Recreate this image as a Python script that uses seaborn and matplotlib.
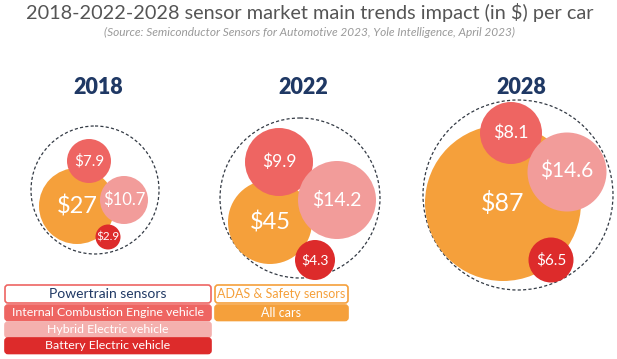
import matplotlib.pyplot as plt
import seaborn as sns
import pandas as pd
from matplotlib.patches import Circle, FancyBboxPatch

sns.set_theme(style='white')
plt.rcParams['font.family'] = ['Lato', 'DejaVu Sans']

# Data
years = ['2018', '2022', '2028']
segments = ['All cars', 'Internal Combustion Engine vehicle',
            'Hybrid Electric vehicle', 'Battery Electric vehicle']
values_2018 = [27, 7.9, 10.7, 2.9]
values_2022 = [45, 9.9, 14.2, 4.3]
values_2028 = [87, 8.1, 14.6, 6.5]
labels_2018 = ['$27', '$7.9', '$10.7', '$2.9']
labels_2022 = ['$45', '$9.9', '$14.2', '$4.3']
labels_2028 = ['$87', '$8.1', '$14.6', '$6.5']

colors = {'All cars': '#F5A03B',
          'Internal Combustion Engine vehicle': '#EE6562',
          'Hybrid Electric vehicle': '#F29C9A',
          'Battery Electric vehicle': '#DD2B2B'}

# Layout (pixels): ring centre and radius per year, then bubble offset / radius
rings = {'2018': (95, 190, 64), '2022': (300, 198, 80), '2028': (518, 195, 95)}
offsets = {'2018': [(-18, 16), (-6, -29), (29, 10), (13, 47)],
           '2022': [(-30, 24), (-21, -36), (37, 2), (15, 62)],
           '2028': [(-15, 8), (-7, -62), (49, -23), (33, 65)]}
radii = {'2018': [38, 22, 24, 12.5],
         '2022': [42, 34, 39, 20],
         '2028': [78, 31, 39.5, 22.5]}
fonts = {'2018': [17, 11, 12, 8.5],
         '2022': [17, 12.5, 14, 10],
         '2028': [18, 13, 15, 11]}

rows = []
for yr, vals, labs in zip(years, [values_2018, values_2022, values_2028],
                          [labels_2018, labels_2022, labels_2028]):
    cx, cy, _ = rings[yr]
    for i, seg in enumerate(segments):
        dx, dy = offsets[yr][i]
        rows.append({'year': yr, 'segment': seg, 'value': vals[i],
                     'label': labs[i], 'x': cx + dx, 'y': cy + dy,
                     'r': radii[yr][i], 'fs': fonts[yr][i]})
df = pd.DataFrame(rows)
# marker area in points^2 from pixel radius at dpi 100
df['s'] = (2 * df['r'] * 0.72) ** 2

fig = plt.figure(figsize=(6.17, 3.59), dpi=100)
ax = fig.add_axes([0, 0, 1, 1])
ax.set_xlim(0, 617)
ax.set_ylim(359, 0)
ax.axis('off')

# draw in segment order so orange stays behind
for seg in segments:
    sub = df[df['segment'] == seg]
    sns.scatterplot(data=sub, x='x', y='y', size='s',
                    sizes={v: v for v in sub['s']}, color=colors[seg],
                    linewidth=0, legend=False, ax=ax, zorder=3)

for _, row in df.iterrows():
    ax.text(row['x'], row['y'], row['label'], color='white',
            fontsize=row['fs'], ha='center', va='center', zorder=5)

for yr in years:
    cx, cy, rr = rings[yr]
    ax.add_patch(Circle((cx, cy), rr, fill=False, ls=(0, (2.5, 1.8)),
                        lw=0.9, ec='#333a44', zorder=2))
    ax.text(cx + 3, 87, yr, fontsize=15.5, fontweight='heavy',
            color='#1F3864', ha='center', va='center')

ax.text(310, 13, '2018-2022-2028 sensor market main trends impact (in $) per car',
        fontsize=14.3, color='#555555', ha='center', va='center')
ax.text(310, 32, '(Source: Semiconductor Sensors for Automotive 2023, '
        'Yole Intelligence, April 2023)',
        fontsize=8.6, color='#9a9a9a', ha='center', va='center',
        style='italic')

# legend boxes
legend_left = [('Powertrain sensors', 'white', '#EE6562', '#1F3864'),
               ('Internal Combustion Engine vehicle', '#EE6562', '#EE6562', 'white'),
               ('Hybrid Electric vehicle', '#F4B0AE', '#F4B0AE', 'white'),
               ('Battery Electric vehicle', '#DD2B2B', '#DD2B2B', 'white')]
legend_right = [('ADAS & Safety sensors', 'white', '#F5A03B', '#F5A03B'),
                ('All cars', '#F5A03B', '#F5A03B', 'white')]
tops_left = [285, 305, 322, 338]
tops_right = [285, 305]
for (txt, fc, ec, tc), top in zip(legend_left, tops_left):
    h = 18 if top == 285 else 15.5
    ax.add_patch(FancyBboxPatch((5, top), 206, h,
                                boxstyle='round,pad=0,rounding_size=3',
                                fc=fc, ec=ec, lw=1.2))
    ax.text(108, top + h / 2, txt, fontsize=10 if top == 285 else 8.9,
            color=tc, ha='center', va='center')
for (txt, fc, ec, tc), top in zip(legend_right, tops_right):
    h = 18 if top == 285 else 15.5
    ax.add_patch(FancyBboxPatch((215, top), 133, h,
                                boxstyle='round,pad=0,rounding_size=3',
                                fc=fc, ec=ec, lw=1.2))
    ax.text(281, top + h / 2, txt, fontsize=9, color=tc,
            ha='center', va='center')

fig.savefig('out.png', dpi=100)
